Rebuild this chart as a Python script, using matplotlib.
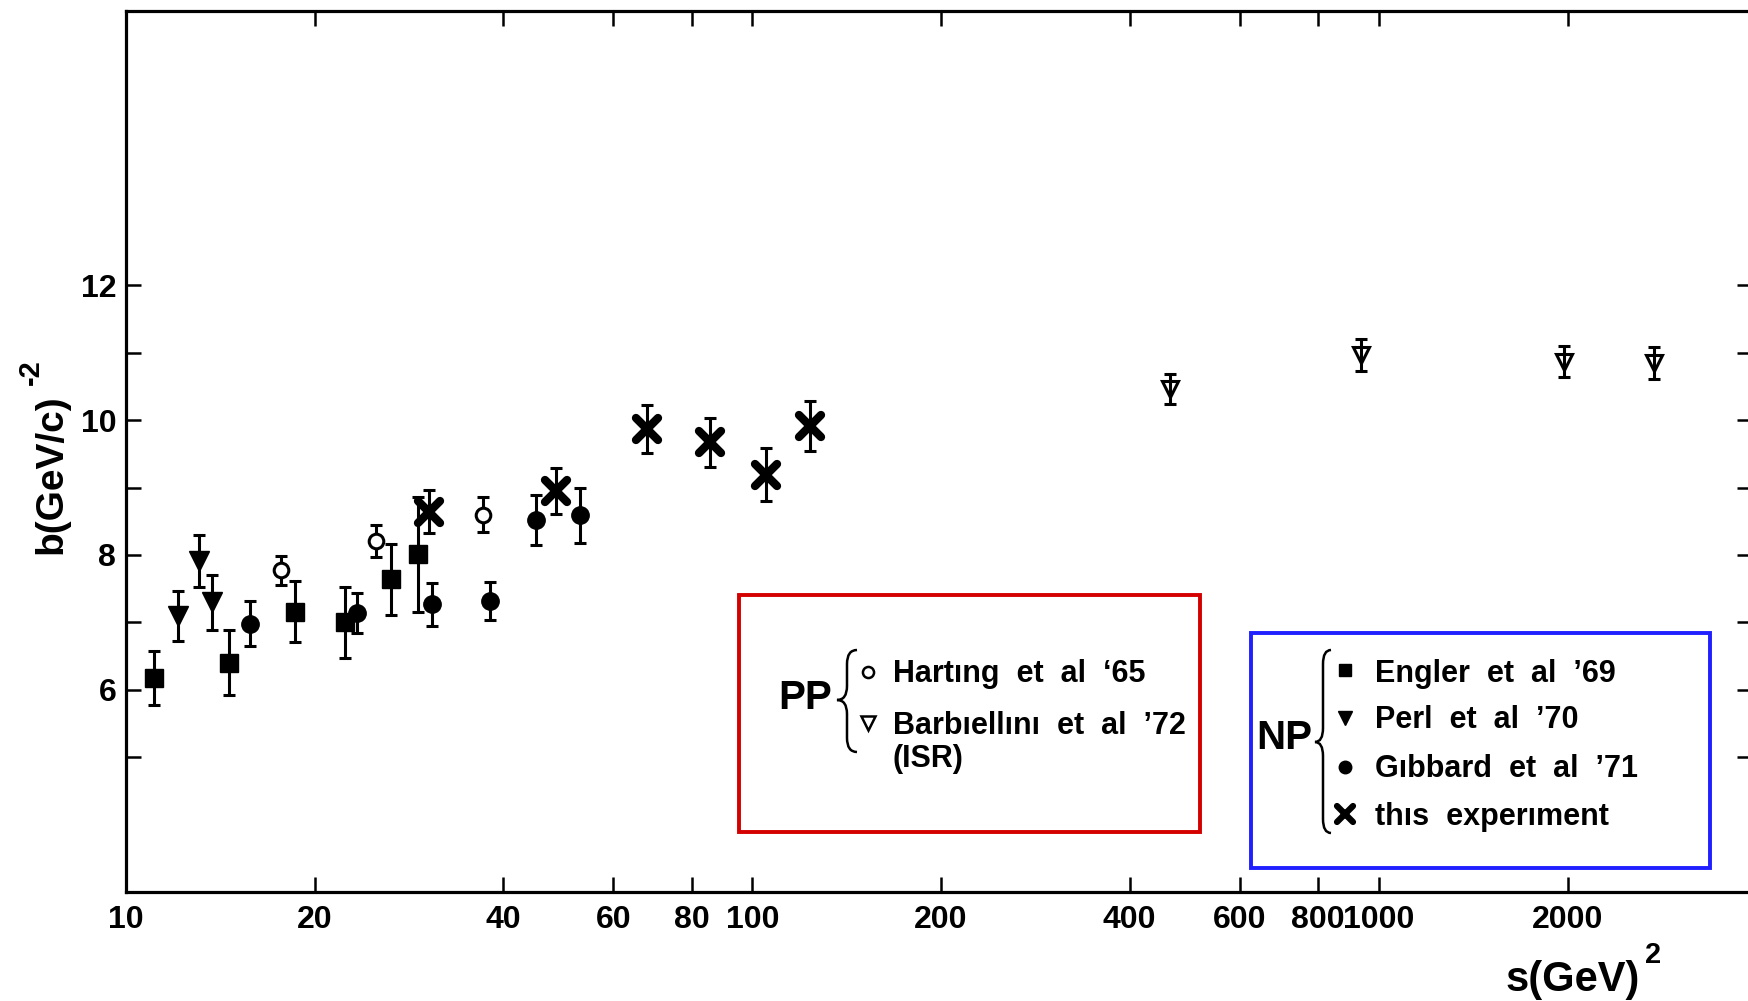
import matplotlib
matplotlib.use("Agg")
import matplotlib.pyplot as plt
from matplotlib.markers import MarkerStyle
from matplotlib.path import Path
from matplotlib.patches import PathPatch, Rectangle
from matplotlib.ticker import FixedLocator, NullLocator

plt.rcParams['font.family'] = ['Liberation Sans', 'DejaVu Sans']
plt.rcParams['font.weight'] = 'bold'

# slope parameter b vs s, all measurements
engler_s = [11.1, 14.6, 18.6, 22.4, 26.5, 29.2]
engler_b = [6.17, 6.40, 7.16, 7.00, 7.64, 8.01]
engler_err = [0.40, 0.48, 0.45, 0.53, 0.53, 0.85]

perl_s = [12.1, 13.1, 13.7]
perl_b = [7.10, 7.91, 7.30]
perl_err = [0.37, 0.39, 0.41]

gibbard_s = [15.8, 23.4, 30.8, 38.1, 45.2, 53.1]
gibbard_b = [6.98, 7.14, 7.27, 7.32, 8.52, 8.59]
gibbard_err = [0.33, 0.30, 0.32, 0.28, 0.37, 0.41]

harting_s = [17.7, 25.1, 37.1]
harting_b = [7.77, 8.21, 8.60]
harting_err = [0.22, 0.24, 0.26]

barb_s = [464, 937, 1972, 2753]
barb_b = [10.46, 10.97, 10.87, 10.85]
barb_err = [0.22, 0.24, 0.23, 0.24]

this_s = [30.4, 48.5, 67.8, 85.5, 105, 123.4]
this_b = [8.64, 8.95, 9.87, 9.67, 9.19, 9.91]
this_err = [0.32, 0.34, 0.36, 0.36, 0.39, 0.37]

xticks = [10, 20, 40, 60, 80, 100, 200, 400, 600, 800, 1000, 2000]
yticks = [6, 8, 10, 12]
yminor = [5, 7, 9, 11]

pp_labels = ["Hart\u0131ng  et  al  \u201865", "Barb\u0131ell\u0131n\u0131  et  al  \u201972", "(ISR)"]
np_labels = ["Engler  et  al  \u201969", "Perl  et  al  \u201970", "G\u0131bbard  et  al  \u201971",
             "th\u0131s  exper\u0131ment"]

W, H = 1748, 1001
fig = plt.figure(figsize=(W / 100, H / 100), dpi=100)
ax = fig.add_axes([126 / W, 1 - 892 / H, (1752 - 126) / W, (892 - 11) / H])
ax.set_xscale('log')
ax.set_xlim(10, 3940)
ax.set_ylim(3.0, 16.07)

for sp in ax.spines.values():
    sp.set_linewidth(2.3)

ax.xaxis.set_major_locator(FixedLocator(xticks))
ax.xaxis.set_minor_locator(NullLocator())
ax.set_xticklabels([str(t) for t in xticks])
ax.yaxis.set_major_locator(FixedLocator(yticks))
ax.yaxis.set_minor_locator(FixedLocator(yminor))
ax.set_yticklabels([str(t) for t in yticks])
ax.tick_params(which='both', direction='in', top=True, right=True,
               length=11, width=1.8, labelsize=23)
ax.tick_params(axis='x', pad=9)
ax.tick_params(axis='y', pad=7)

ebar = dict(fmt='none', ecolor='k', elinewidth=2.2, capsize=4.5, capthick=2.2, zorder=2)


def series(s, b, err, marker, ms, face, mew=1.0):
    ax.errorbar(s, b, yerr=err, **ebar)
    ax.plot(s, b, ls='none', marker=marker, ms=ms, mfc=face, mec='k', mew=mew, zorder=3)


cross = MarkerStyle('x', capstyle='round')
series(engler_s, engler_b, engler_err, 's', 13, 'k')
series(perl_s, perl_b, perl_err, 'v', 14, 'k')
series(gibbard_s, gibbard_b, gibbard_err, 'o', 12.5, 'k')
series(harting_s, harting_b, harting_err, 'o', 10.5, 'white', mew=2.2)
series(barb_s, barb_b, barb_err, 'v', 11.5, 'none', mew=2.2)
series(this_s, this_b, this_err, cross, 16, 'k', mew=6)

# overlay in pixel coordinates for labels and legend boxes
ov = fig.add_axes([0, 0, 1, 1], zorder=5)
ov.set_xlim(0, W)
ov.set_ylim(H, 0)
ov.axis('off')

ov.text(51, 474, "b(GeV/c)", rotation=90, ha='center', va='center', fontsize=28)
ov.text(31, 372, "-2", rotation=90, ha='center', va='center', fontsize=21)
ov.text(1573, 991, "s(GeV)", ha='center', va='baseline', fontsize=30)
ov.text(1653, 955, "2", ha='center', va='center', fontsize=21)


def brace(x, y0, y1, ym, w):
    h = min(14, (y1 - y0) / 6)
    verts = [(x + w, y0), (x, y0), (x, y0 + h),
             (x, ym - h), (x, ym), (x - w, ym),
             (x, ym), (x, ym + h),
             (x, y1 - h), (x, y1), (x + w, y1)]
    codes = [Path.MOVETO, Path.CURVE3, Path.CURVE3,
             Path.LINETO, Path.CURVE3, Path.CURVE3,
             Path.CURVE3, Path.CURVE3,
             Path.LINETO, Path.CURVE3, Path.CURVE3]
    ov.add_patch(PathPatch(Path(verts, codes), fill=False, lw=1.8, ec='k'))


# proton-proton box
ov.add_patch(Rectangle((739, 595), 461, 237, fill=False, ec='#d40000', lw=2.8))
ov.text(805, 698, "PP", ha='center', va='center', fontsize=29)
brace(847, 650, 752, 700, 10)
ov.plot(868, 672, ls='none', marker='o', ms=8, mfc='white', mec='k', mew=1.8)
ov.plot(868, 723, ls='none', marker='v', ms=10, mfc='white', mec='k', mew=1.8)
for lab, yb in zip(pp_labels, [682, 734, 767]):
    ov.text(893, yb, lab, ha='left', va='baseline', fontsize=22)

# neutron-proton box
ov.add_patch(Rectangle((1251, 633), 459, 235, fill=False, ec='#1f1fff', lw=2.8))
ov.text(1284, 738, "NP", ha='center', va='center', fontsize=29)
brace(1323, 650, 833, 742, 8)
ov.plot(1345, 670, ls='none', marker='s', ms=9, mfc='k', mec='k')
ov.plot(1345, 718, ls='none', marker='v', ms=10, mfc='k', mec='k')
ov.plot(1345, 767, ls='none', marker='o', ms=9, mfc='k', mec='k')
ov.plot(1345, 814, ls='none', marker=cross, ms=11, mfc='k', mec='k', mew=4.5)
for lab, yb in zip(np_labels, [682, 728, 777, 825]):
    ov.text(1375, yb, lab, ha='left', va='baseline', fontsize=22)

fig.savefig("out.png", dpi=100)
